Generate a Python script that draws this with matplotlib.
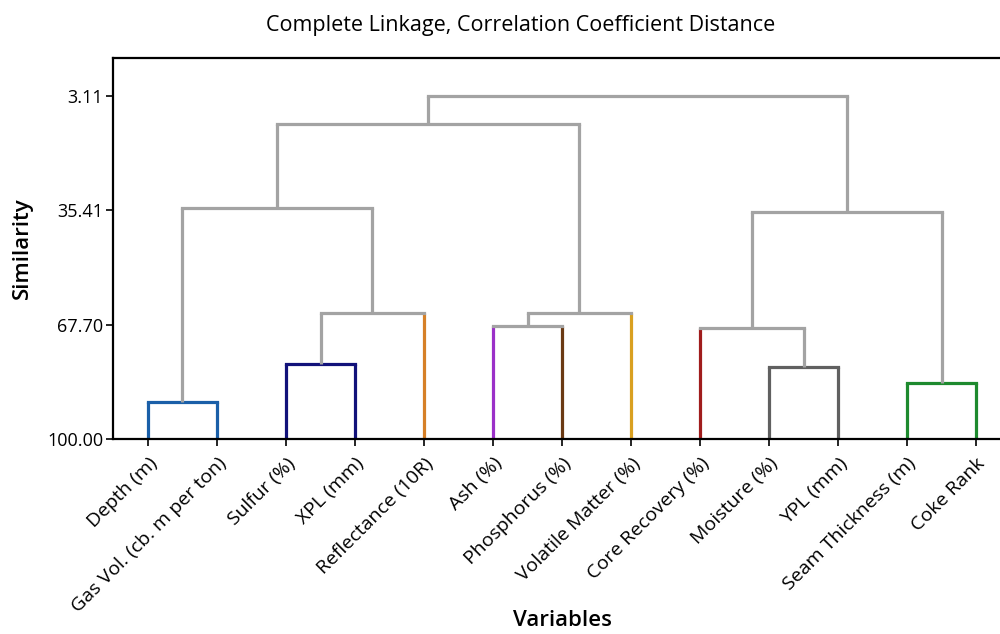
import matplotlib.pyplot as plt

variables = [
    "Depth (m)", "Gas Vol. (cb. m per ton)", "Sulfur (%)", "XPL (mm)",
    "Reflectance (10R)", "Ash (%)", "Phosphorus (%)", "Volatile Matter (%)",
    "Core Recovery (%)", "Moisture (%)", "YPL (mm)", "Seam Thickness (m)",
    "Coke Rank",
]

# merge steps: (left node, right node, similarity); new nodes get ids 13, 14, ...
merges = [
    (0, 1, 89.6),     # 13
    (2, 3, 78.8),     # 14
    (14, 4, 64.4),    # 15
    (5, 6, 68.1),     # 16
    (16, 7, 64.5),    # 17
    (13, 15, 34.8),   # 18
    (18, 17, 11.0),   # 19
    (9, 10, 79.7),    # 20
    (8, 20, 68.8),    # 21
    (11, 12, 84.2),   # 22
    (21, 22, 36.0),   # 23
    (19, 23, 3.11),   # 24
]

leaf_colors = [
    "#1a5fa8", "#1a5fa8", "#12127a", "#12127a", "#d68027", "#9b30c8",
    "#6b3a14", "#d9a020", "#a01c1c", "#606060", "#606060", "#1e8a2e",
    "#1e8a2e",
]
link_gray = "#a3a3a3"
yticks = [3.11, 35.41, 67.70, 100.00]

plt.rcParams["font.family"] = ["Open Sans", "DejaVu Sans"]

fig = plt.figure(figsize=(10, 6.34), dpi=100)
ax = fig.add_axes([0.113, 0.3076, 0.89, 0.601])

n = len(variables)
xpos = {i: float(i) for i in range(n)}
ypos = {i: 100.0 for i in range(n)}
color = {i: leaf_colors[i] for i in range(n)}

lw = 2.3
for k, (a, b, h) in enumerate(merges):
    node = n + k
    # leaves keep their colour on the way up, cluster stems are grey
    for child in (a, b):
        c = color[child] if child < n else link_gray
        ax.plot([xpos[child], xpos[child]], [ypos[child], h], color=c, lw=lw,
                solid_capstyle="butt")
    same = color[a] == color[b]
    c = color[a] if same else link_gray
    ax.plot([xpos[a], xpos[b]], [h, h], color=c, lw=lw, solid_capstyle="projecting")
    xpos[node] = (xpos[a] + xpos[b]) / 2
    ypos[node] = h
    color[node] = c

ax.set_xlim(-0.507, 12.39)
ax.set_ylim(100, -7.6)
ax.set_yticks(yticks)
ax.set_yticklabels([f"{v:.2f}" for v in yticks], fontsize=13)
ax.set_xticks(range(n))
ax.set_xticklabels(variables, rotation=45, ha="right", rotation_mode="anchor",
                   fontsize=14)
ax.tick_params(axis="both", length=5, width=1.2, color="black")
ax.tick_params(axis="x", pad=6)
ax.tick_params(axis="y", pad=2)
ax.spines["right"].set_visible(False)
for s in ["left", "top", "bottom"]:
    ax.spines[s].set_linewidth(1.6)

ax.set_ylabel("Similarity", fontsize=16, fontweight="semibold", labelpad=10)
fig.text(0.562, 0.004, "Variables", fontsize=16, fontweight="semibold",
         ha="center", va="bottom")
fig.text(0.521, 0.96, "Complete Linkage, Correlation Coefficient Distance",
         fontsize=15.5, ha="center", va="center")

fig.savefig("out.png", dpi=100)
